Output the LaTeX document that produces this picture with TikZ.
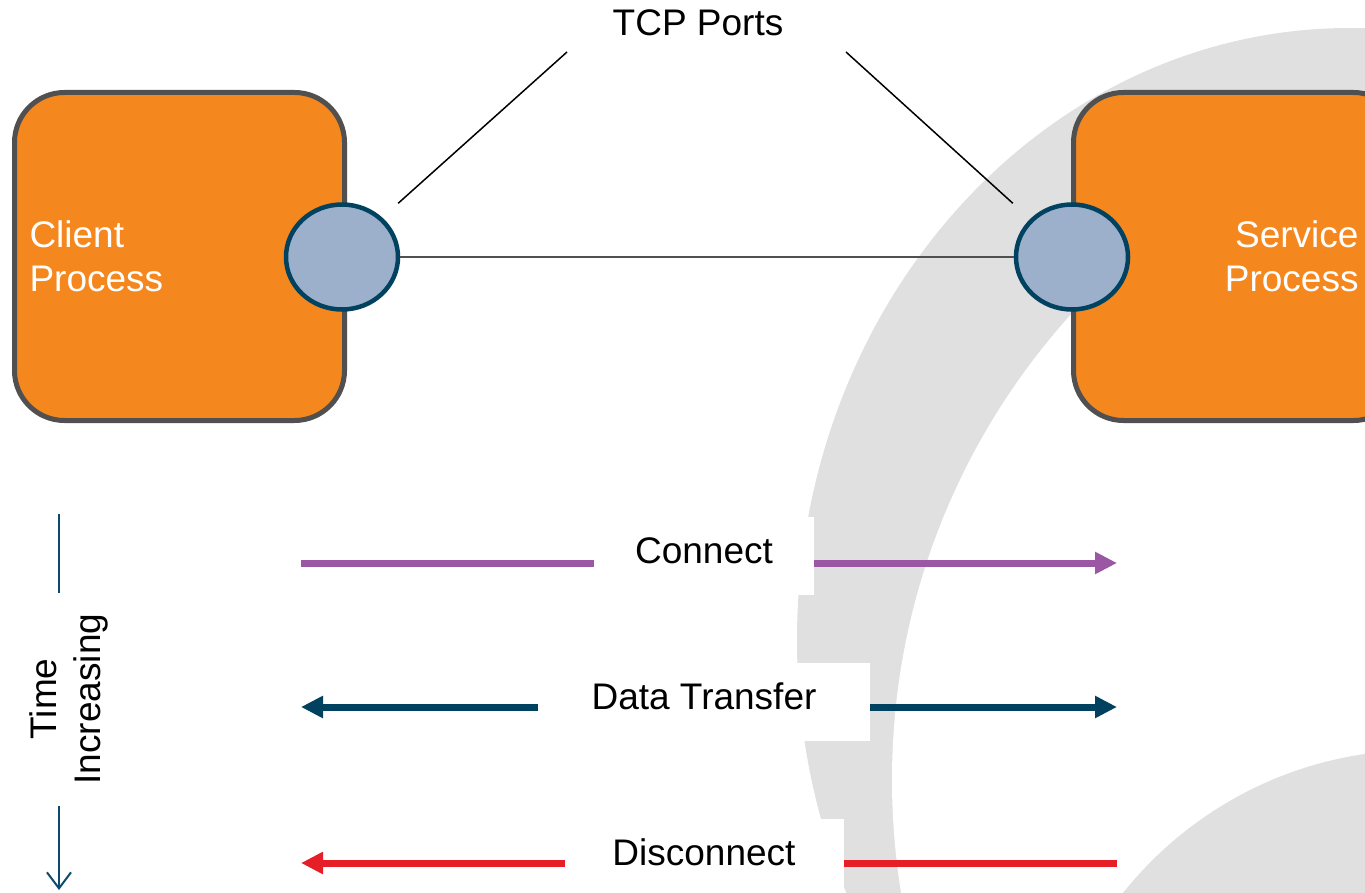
\documentclass[tikz,border=0pt]{standalone}
\usepackage{fontspec}
\setmainfont{Liberation Sans}
\usetikzlibrary{arrows.meta,shapes.geometric}
\definecolor{procorange}{RGB}{245,135,31}
\definecolor{procedge}{RGB}{80,80,80}
\definecolor{portfill}{RGB}{157,176,203}
\definecolor{portedge}{RGB}{0,66,96}
\definecolor{ringgray}{RGB}{224,224,224}
\definecolor{conpurple}{RGB}{155,87,163}
\definecolor{datablue}{RGB}{0,65,96}
\definecolor{discred}{RGB}{229,30,40}
\definecolor{timeblue}{RGB}{12,75,107}
\tikzset{
  bigtext/.style={font=\fontsize{37}{44}\selectfont},
  procbox/.style={bigtext, draw=procedge, fill=procorange, line width=5pt, rounded corners=50pt,
                  minimum height=328pt, text=white, inner ysep=0pt},
  port/.style={ellipse, draw=portedge, fill=portfill, line width=4.5pt,
               minimum width=112pt, minimum height=105pt, inner sep=0pt},
  msglabel/.style={bigtext, fill=white, minimum height=78pt, inner sep=0pt,
                   text height=27pt, text depth=12pt},
  msgline/.style={line width=7pt},
  pointer/.style={black, line width=1.5pt},
}

\begin{document}
\begin{tikzpicture}[x=1pt, y=-1pt, >={Triangle[length=22pt,width=21pt]}]
\useasboundingbox (0,0) rectangle (1365,893);
\clip (0,0) rectangle (1365,893);

%background arcs
\fill[ringgray] (1350,640) ellipse [x radius=553pt, y radius=612pt];
\fill[white]    (1587,780) circle [radius=695pt];
\fill[ringgray] (1420,1130) circle [radius=380pt];

%processes and ports
\node[procbox, text width=300pt, inner xsep=15pt, align=left]  (client)  at (179.5,256.5) {Client\\Process};
\node[procbox, text width=240pt, inner xsep=45pt, align=right] (service) at (1238.5,256.5) {Service\\Process};
\node[port] (cport) at (342,257) {};
\node[port] (sport) at (1072,257) {};
\draw[procedge, line width=2pt] (cport) -- (sport);

\node[bigtext] (tcp) at (698,23) {TCP Ports};
\coordinate (tcpl) at (567,52);
\coordinate (tcpr) at (846,52);
\draw[pointer] (tcpl) -- ([shift={(15,-15)}]cport.north east);
\draw[pointer] (tcpr) -- ([shift={(-18,-15)}]sport.north west);

%messages
\foreach \name/\ly/\ny/\txt/\boxw/\clr/\dir in {%
    con/563/556/Connect/220/conpurple/->,
    dat/707/702/Data Transfer/332/datablue/<->,
    dis/863/858/Disconnect/279/discred/<-}{
  \coordinate (\name-l) at (301,\ly);
  \coordinate (\name-r) at (1117,\ly);
  \draw[msgline, \clr, \dir] (\name-l) -- (\name-r);
  \node[msglabel, minimum width=\boxw pt] (\name) at (704,\ny) {\txt};
}

%time axis
\node[bigtext, rotate=90, align=center] (time) at (69,699) {Time\\Increasing};
\coordinate (t1) at (59,514);
\coordinate (t2) at (59,593);
\coordinate (t3) at (59,806);
\coordinate (t4) at (59,890);
\draw[timeblue, line width=2pt] (t1) -- (t2);
\draw[timeblue, line width=2pt, -{Straight Barb[length=16pt,width=24pt]}] (t3) -- (t4);
\end{tikzpicture}
\end{document}
